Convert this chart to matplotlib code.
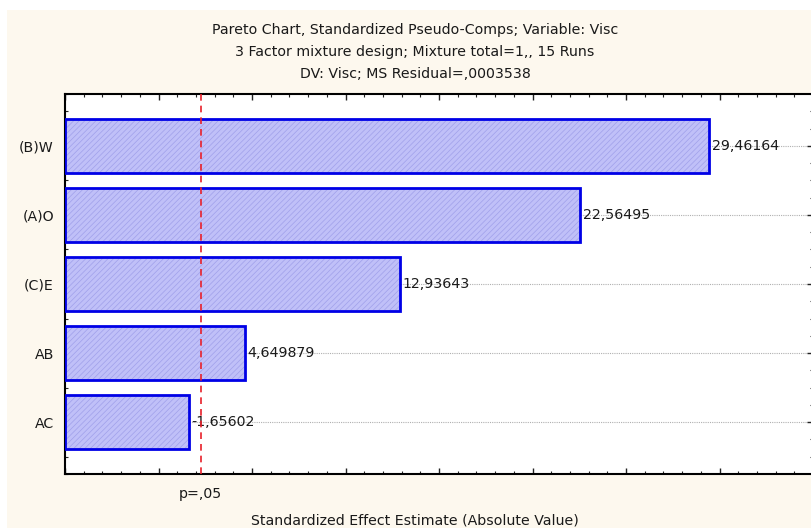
import matplotlib
matplotlib.use('Agg')
from matplotlib import pyplot as plt
from matplotlib.ticker import MultipleLocator
from matplotlib.patches import Rectangle

plt.rcParams['font.family'] = ['DejaVu Sans']
plt.rcParams['hatch.linewidth'] = 0.5

# effects, largest first
terms = ['(B)W', '(A)O', '(C)E', 'AB', 'AC']
effects = [29.46164, 22.56495, 12.93643, 4.649879, -1.65602]
t_crit = 2.262  # p=.05, df=9
x_min, x_max = -5, 35
FS = 10.2

fig = plt.figure(figsize=(8.11, 5.28), dpi=100)
fig.patch.set_facecolor('white')
fig.add_artist(Rectangle((7/811, 0), 1, 1 - 10/528, transform=fig.transFigure,
                         facecolor='#fdf8ee', edgecolor='none', zorder=-10))

ax = fig.add_axes([65/811, 1 - 474/528, 748/811, 380/528])
ax.set_facecolor('white')

pos = list(range(len(terms)))
widths = [abs(e) - x_min for e in effects]

# hatched fill, then the blue outline on top
ax.barh(pos, widths, left=x_min, height=0.79, color='#c0c0f8',
        edgecolor='#a0a0ea', hatch='//////', linewidth=0, zorder=2)
ax.barh(pos, widths, left=x_min, height=0.79, fill=False,
        edgecolor='#0000e6', linewidth=2, zorder=3)

for p, e in zip(pos, effects):
    ax.text(abs(e) + 0.12, p, f'{e:.7g}'.replace('.', ','), va='center', ha='left',
            fontsize=FS, color='#1a1a1a', zorder=4)
    ax.plot([x_min, x_max], [p, p], color='#b0b0b0', linestyle=(0, (1, 1)),
            linewidth=0.8, zorder=1)

ax.axvline(t_crit, color='#e8202a', linestyle=(0, (4, 3)), linewidth=1.2, zorder=5)
ax.text(t_crit, -0.035, 'p=,05', transform=ax.get_xaxis_transform(), ha='center',
        va='top', fontsize=FS, color='#1a1a1a')

ax.set_xlim(x_min, x_max)
ax.set_ylim(len(terms) - 0.25, -0.75)
ax.set_yticks(pos)
ax.set_yticklabels(terms, fontsize=FS, color='#1a1a1a')
ax.yaxis.set_minor_locator(MultipleLocator(0.25))
ax.xaxis.set_major_locator(MultipleLocator(5))
ax.xaxis.set_minor_locator(MultipleLocator(1))
ax.tick_params(axis='both', which='both', direction='in', top=True, right=True,
               labelbottom=False, color='#222222')
ax.tick_params(axis='both', which='major', length=4, width=1)
ax.tick_params(axis='both', which='minor', length=2.5, width=0.8)
ax.tick_params(axis='y', which='major', pad=8)
for s in ax.spines.values():
    s.set_linewidth(1.5)

fig.text(415/811, 1 - 30/528, 'Pareto Chart, Standardized Pseudo-Comps; Variable: Visc',
         ha='center', va='center', fontsize=FS, color='#1a1a1a')
fig.text(415/811, 1 - 52/528, '3 Factor mixture design; Mixture total=1,, 15 Runs',
         ha='center', va='center', fontsize=FS, color='#1a1a1a')
fig.text(415/811, 1 - 74/528, 'DV: Visc; MS Residual=,0003538',
         ha='center', va='center', fontsize=FS, color='#1a1a1a')
fig.text(415/811, 1 - 520/528, 'Standardized Effect Estimate (Absolute Value)',
         ha='center', va='center', fontsize=FS, color='#1a1a1a')

fig.savefig('out.png', dpi=100, facecolor=fig.get_facecolor())
